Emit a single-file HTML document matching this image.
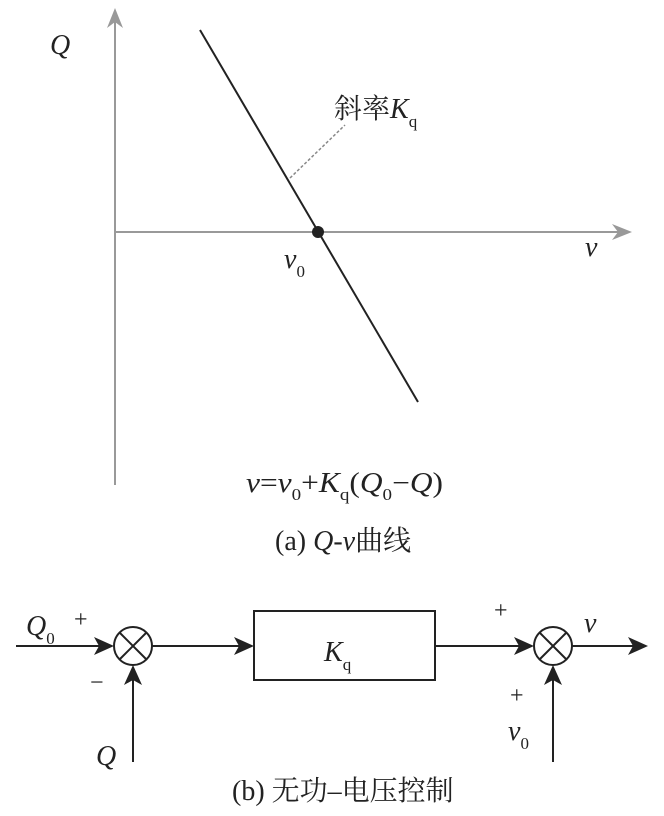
<!DOCTYPE html>
<html><head><meta charset="utf-8"><style>
body{margin:0;background:#fff}
text{font-family:"Liberation Serif","Noto Serif CJK SC",serif;fill:#222}
</style></head><body>
<svg width="664" height="811" viewBox="0 0 664 811" xmlns="http://www.w3.org/2000/svg">
<line x1="115" y1="485" x2="115" y2="12" stroke="#999" stroke-width="2"/>
<path d="M115,8 L107,28 L115,22 L123,28z" fill="#999"/>
<line x1="115" y1="232" x2="625" y2="232" stroke="#999" stroke-width="2"/>
<path d="M632,232 L612,224 L618,232 L612,240z" fill="#999"/>
<line x1="200" y1="30" x2="418" y2="402" stroke="#222" stroke-width="2"/>
<circle cx="318" cy="232" r="6" fill="#222"/>
<line x1="290" y1="178" x2="345" y2="125" stroke="#888" stroke-width="1.5" stroke-dasharray="3,2"/>
<text x="50" y="54" font-size="28" font-style="italic">Q</text>
<text x="334" y="118" font-size="28">斜率<tspan font-style="italic">K</tspan><tspan font-size="17" dy="9">q</tspan></text>
<text x="284" y="268" font-size="28" font-style="italic">v<tspan font-size="17" dy="9" font-style="normal">0</tspan></text>
<text x="585" y="256" font-size="28" font-style="italic">v</text>
<text x="246" y="492" font-size="28" textLength="197" lengthAdjust="spacingAndGlyphs"><tspan font-style="italic">v</tspan>=<tspan font-style="italic">v</tspan><tspan font-size="17" dy="8">0</tspan><tspan dy="-8">+</tspan><tspan font-style="italic">K</tspan><tspan font-size="17" dy="8">q</tspan><tspan dy="-8">(</tspan><tspan font-style="italic">Q</tspan><tspan font-size="17" dy="8">0</tspan><tspan dy="-8">−</tspan><tspan font-style="italic">Q</tspan>)</text>
<text x="275" y="550" font-size="28">(a) <tspan font-style="italic">Q</tspan>-<tspan font-style="italic">v</tspan>曲线</text>

<g stroke="#222" stroke-width="2" fill="none">
<line x1="16" y1="646" x2="110" y2="646"/>
<circle cx="133" cy="646" r="19"/>
<line x1="120" y1="633" x2="146" y2="659"/><line x1="146" y1="633" x2="120" y2="659"/>
<line x1="152" y1="646" x2="246" y2="646"/>
<rect x="254" y="611" width="181" height="69"/>
<line x1="435" y1="646" x2="528" y2="646"/>
<circle cx="553" cy="646" r="19"/>
<line x1="540" y1="633" x2="566" y2="659"/><line x1="566" y1="633" x2="540" y2="659"/>
<line x1="572" y1="646" x2="637" y2="646"/>
<line x1="133" y1="762" x2="133" y2="680"/>
<line x1="553" y1="762" x2="553" y2="680"/>
</g>
<g fill="#222">
<path d="M114,646 L94,637 L99,646 L94,655z"/>
<path d="M254,646 L234,637 L239,646 L234,655z"/>
<path d="M534,646 L514,637 L519,646 L514,655z"/>
<path d="M648,646 L628,637 L633,646 L628,655z"/>
<path d="M133,665 L124,685 L133,680 L142,685z"/>
<path d="M553,665 L544,685 L553,680 L562,685z"/>
</g>
<text x="26" y="635" font-size="28" font-style="italic">Q<tspan font-size="17" dy="9" font-style="normal">0</tspan></text>
<text x="74" y="627" font-size="24">+</text>
<text x="90" y="690" font-size="24">−</text>
<text x="96" y="765" font-size="28" font-style="italic">Q</text>
<text x="324" y="661" font-size="28" font-style="italic">K<tspan font-size="17" dy="9" font-style="normal">q</tspan></text>
<text x="494" y="618" font-size="24">+</text>
<text x="584" y="632" font-size="28" font-style="italic">v</text>
<text x="510" y="703" font-size="24">+</text>
<text x="508" y="740" font-size="28" font-style="italic">v<tspan font-size="17" dy="9" font-style="normal">0</tspan></text>
<text x="232" y="800" font-size="28">(b) 无功–电压控制</text>
</svg>
</body></html>
